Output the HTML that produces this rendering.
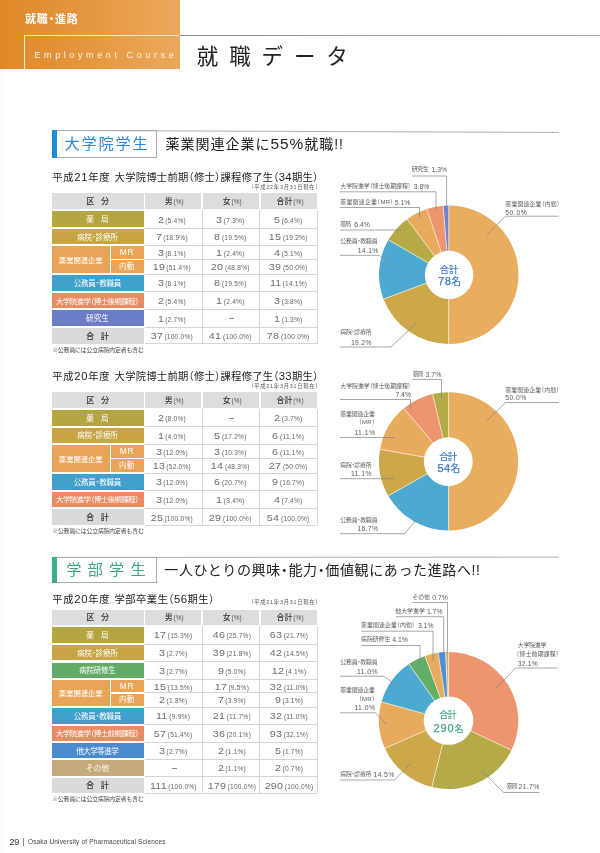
<!DOCTYPE html>
<html lang="ja"><head><meta charset="utf-8"><title>就職データ</title>
<style>
html,body{margin:0;padding:0}
body{width:600px;height:853px;position:relative;overflow:hidden;background:#fff;font-family:"Liberation Sans","Noto Sans CJK JP",sans-serif;}
#pg{position:absolute;left:0;top:0;width:600px;height:853px;overflow:hidden;background:linear-gradient(90deg,#faf9f5 0,#fefefc 4px,#ffffff 8px)}
svg{position:absolute;left:0;top:0}
</style></head><body><div id="pg">
<svg width="600" height="853" viewBox="0 0 600 853">
<line x1="52" y1="130.45" x2="558.6" y2="132.45" stroke="#a3a5a7" stroke-width="0.9"/>
<line x1="52" y1="557.45" x2="558.6" y2="557.1500000000001" stroke="#a3a5a7" stroke-width="0.9"/>
<path d="M448.80,274.70 L448.80,205.40 A69.8,69.3 0 1 1 448.58,344.00 Z" fill="#e9ad60"/>
<path d="M448.80,274.70 L448.58,344.00 A69.8,69.3 0 0 1 383.48,299.12 Z" fill="#cca84b"/>
<path d="M448.80,274.70 L383.48,299.12 A69.8,69.3 0 0 1 388.46,239.86 Z" fill="#4caad2"/>
<path d="M448.80,274.70 L388.46,239.86 A69.8,69.3 0 0 1 407.03,219.18 Z" fill="#b4aa47"/>
<path d="M448.80,274.70 L407.03,219.18 A69.8,69.3 0 0 1 426.79,208.93 Z" fill="#e8aa5c"/>
<path d="M448.80,274.70 L426.79,208.93 A69.8,69.3 0 0 1 443.10,205.63 Z" fill="#ec956e"/>
<path d="M448.80,274.70 L443.10,205.63 A69.8,69.3 0 0 1 448.80,205.40 Z" fill="#6d82d2"/>
<line x1="448.80" y1="274.70" x2="448.80" y2="205.40" stroke="#f6ecd2" stroke-width="0.8"/>
<line x1="448.80" y1="274.70" x2="448.58" y2="344.00" stroke="#f6ecd2" stroke-width="0.8"/>
<line x1="448.80" y1="274.70" x2="383.48" y2="299.12" stroke="#f6ecd2" stroke-width="0.8"/>
<line x1="448.80" y1="274.70" x2="388.46" y2="239.86" stroke="#f6ecd2" stroke-width="0.8"/>
<line x1="448.80" y1="274.70" x2="407.03" y2="219.18" stroke="#f6ecd2" stroke-width="0.8"/>
<line x1="448.80" y1="274.70" x2="426.79" y2="208.93" stroke="#f6ecd2" stroke-width="0.8"/>
<line x1="448.80" y1="274.70" x2="443.10" y2="205.63" stroke="#f6ecd2" stroke-width="0.8"/>
<ellipse cx="449.1" cy="275" rx="24.2" ry="24.2" fill="#ffffff"/>
<polyline points="412.00,176.00 446.60,176.00 446.60,209.00" fill="none" stroke="#7d8388" stroke-width="0.7"/>
<polyline points="340.00,191.80 436.00,191.80 436.00,211.00" fill="none" stroke="#7d8388" stroke-width="0.7"/>
<polyline points="340.00,207.50 419.50,207.50 419.50,217.50" fill="none" stroke="#7d8388" stroke-width="0.7"/>
<polyline points="340.00,230.00 401.00,230.00" fill="none" stroke="#7d8388" stroke-width="0.7"/>
<polyline points="340.00,255.30 379.40,255.30 391.70,267.60" fill="none" stroke="#7d8388" stroke-width="0.7"/>
<polyline points="340.00,347.00 391.00,347.00 415.70,323.70" fill="none" stroke="#7d8388" stroke-width="0.7"/>
<polyline points="558.70,216.20 505.50,216.20 487.00,234.50" fill="none" stroke="#7d8388" stroke-width="0.7"/>
<path d="M448.60,461.40 L448.60,392.20 A69.6,69.2 0 0 1 448.60,530.60 Z" fill="#e9ad60"/>
<path d="M448.60,461.40 L448.60,530.60 A69.6,69.2 0 0 1 388.25,495.87 Z" fill="#4caad2"/>
<path d="M448.60,461.40 L388.25,495.87 A69.6,69.2 0 0 1 380.07,449.29 Z" fill="#cca84b"/>
<path d="M448.60,461.40 L380.07,449.29 A69.6,69.2 0 0 1 403.90,408.36 Z" fill="#e8aa5c"/>
<path d="M448.60,461.40 L403.90,408.36 A69.6,69.2 0 0 1 432.56,394.06 Z" fill="#ec956e"/>
<path d="M448.60,461.40 L432.56,394.06 A69.6,69.2 0 0 1 448.60,392.20 Z" fill="#b4aa47"/>
<line x1="448.60" y1="461.40" x2="448.60" y2="392.20" stroke="#f6ecd2" stroke-width="0.8"/>
<line x1="448.60" y1="461.40" x2="448.60" y2="530.60" stroke="#f6ecd2" stroke-width="0.8"/>
<line x1="448.60" y1="461.40" x2="388.25" y2="495.87" stroke="#f6ecd2" stroke-width="0.8"/>
<line x1="448.60" y1="461.40" x2="380.07" y2="449.29" stroke="#f6ecd2" stroke-width="0.8"/>
<line x1="448.60" y1="461.40" x2="403.90" y2="408.36" stroke="#f6ecd2" stroke-width="0.8"/>
<line x1="448.60" y1="461.40" x2="432.56" y2="394.06" stroke="#f6ecd2" stroke-width="0.8"/>
<ellipse cx="448.3" cy="461.6" rx="24.4" ry="24.3" fill="#ffffff"/>
<polyline points="413.00,379.50 441.50,379.50 441.50,397.50" fill="none" stroke="#7d8388" stroke-width="0.7"/>
<polyline points="340.00,399.50 410.50,399.50 410.50,408.70" fill="none" stroke="#7d8388" stroke-width="0.7"/>
<polyline points="340.00,437.50 394.50,437.50" fill="none" stroke="#7d8388" stroke-width="0.7"/>
<polyline points="340.00,478.70 393.70,478.70" fill="none" stroke="#7d8388" stroke-width="0.7"/>
<polyline points="340.00,533.70 404.50,533.70 418.00,518.00" fill="none" stroke="#7d8388" stroke-width="0.7"/>
<polyline points="558.70,402.50 505.50,402.50 487.00,420.70" fill="none" stroke="#7d8388" stroke-width="0.7"/>
<path d="M448.60,720.50 L448.60,652.00 A69.7,68.5 0 0 1 511.42,750.18 Z" fill="#ec956e"/>
<path d="M448.60,720.50 L511.42,750.18 A69.7,68.5 0 0 1 431.89,787.00 Z" fill="#b4aa47"/>
<path d="M448.60,720.50 L431.89,787.00 A69.7,68.5 0 0 1 384.86,748.22 Z" fill="#cca84b"/>
<path d="M448.60,720.50 L384.86,748.22 A69.7,68.5 0 0 1 381.52,701.89 Z" fill="#e8aa5c"/>
<path d="M448.60,720.50 L381.52,701.89 A69.7,68.5 0 0 1 409.03,664.11 Z" fill="#4caad2"/>
<path d="M448.60,720.50 L409.03,664.11 A69.7,68.5 0 0 1 424.97,656.06 Z" fill="#62ae68"/>
<path d="M448.60,720.50 L424.97,656.06 A69.7,68.5 0 0 1 438.12,652.78 Z" fill="#e8aa5c"/>
<path d="M448.60,720.50 L438.12,652.78 A69.7,68.5 0 0 1 445.53,652.07 Z" fill="#4b8fd8"/>
<path d="M448.60,720.50 L445.53,652.07 A69.7,68.5 0 0 1 448.60,652.00 Z" fill="#c9ae80"/>
<line x1="448.60" y1="720.50" x2="448.60" y2="652.00" stroke="#f6ecd2" stroke-width="0.8"/>
<line x1="448.60" y1="720.50" x2="511.42" y2="750.18" stroke="#f6ecd2" stroke-width="0.8"/>
<line x1="448.60" y1="720.50" x2="431.89" y2="787.00" stroke="#f6ecd2" stroke-width="0.8"/>
<line x1="448.60" y1="720.50" x2="384.86" y2="748.22" stroke="#f6ecd2" stroke-width="0.8"/>
<line x1="448.60" y1="720.50" x2="381.52" y2="701.89" stroke="#f6ecd2" stroke-width="0.8"/>
<line x1="448.60" y1="720.50" x2="409.03" y2="664.11" stroke="#f6ecd2" stroke-width="0.8"/>
<line x1="448.60" y1="720.50" x2="424.97" y2="656.06" stroke="#f6ecd2" stroke-width="0.8"/>
<line x1="448.60" y1="720.50" x2="438.12" y2="652.78" stroke="#f6ecd2" stroke-width="0.8"/>
<line x1="448.60" y1="720.50" x2="445.53" y2="652.07" stroke="#f6ecd2" stroke-width="0.8"/>
<ellipse cx="448.5" cy="720.6" rx="24.8" ry="24.2" fill="#ffffff"/>
<polyline points="412.50,602.50 447.50,602.50 447.50,653.00" fill="none" stroke="#7d8388" stroke-width="0.7"/>
<polyline points="395.50,616.70 443.70,616.70 443.70,655.00" fill="none" stroke="#7d8388" stroke-width="0.7"/>
<polyline points="361.20,631.20 433.00,631.20 433.00,660.50" fill="none" stroke="#7d8388" stroke-width="0.7"/>
<polyline points="361.20,645.50 420.00,645.50 420.00,663.70" fill="none" stroke="#7d8388" stroke-width="0.7"/>
<polyline points="340.00,676.20 383.70,676.20 398.70,687.00" fill="none" stroke="#7d8388" stroke-width="0.7"/>
<polyline points="340.00,712.80 375.30,712.80 386.50,724.20" fill="none" stroke="#7d8388" stroke-width="0.7"/>
<polyline points="340.00,780.00 394.50,780.00 410.50,763.70" fill="none" stroke="#7d8388" stroke-width="0.7"/>
<polyline points="557.50,668.00 515.50,668.00 496.20,688.00" fill="none" stroke="#7d8388" stroke-width="0.7"/>
<polyline points="539.50,792.50 503.70,792.50 481.20,770.50" fill="none" stroke="#7d8388" stroke-width="0.7"/>
</svg>
<div style="position:absolute;left:0;top:0;width:179.5px;height:69px;background:linear-gradient(90deg,#df8829 0%,#e4943b 40%,#eba95c 100%)"></div>
<div style="position:absolute;left:23.60px;top:34.60px;width:155.90px;height:1.00px;background:#fbe9d2;"></div>
<div style="position:absolute;left:23.60px;top:34.60px;width:1.00px;height:34.40px;background:#fbe9d2;"></div>
<div style="position:absolute;left:179.5px;top:34.65px;width:420.5px;height:0.9px;background:linear-gradient(90deg,#85888e 0,#9a9c9f 40%,#a9abad 100%)"></div>
<div style="position:absolute;top:12.10px;line-height:15.4px;font-size:11px;color:#fff;white-space:nowrap;font-weight:700;letter-spacing:0.82px;font-feature-settings:'halt';left:25.00px;">就職・進路</div>
<div style="position:absolute;top:48.63px;line-height:12.74px;font-size:9.1px;color:#fff5e6;white-space:nowrap;letter-spacing:3.56px;left:34.40px;">Employment Course</div>
<div style="position:absolute;top:41.75px;line-height:30.1px;font-size:21.5px;color:#222;white-space:nowrap;letter-spacing:10.87px;left:196.80px;">就職データ</div>
<div style="position:absolute;left:52px;top:130px;width:104.30px;height:26.00px;border:1px solid #a9abad;border-left:none;box-sizing:content-box"></div>
<div style="position:absolute;left:52.00px;top:130.00px;width:5.00px;height:27.60px;background:#1f8dd8;"></div>
<div style="position:absolute;top:133.16px;line-height:21.28px;font-size:15.2px;color:#2b86d2;white-space:nowrap;letter-spacing:1.77px;left:64.60px;">大学院学生</div>
<div style="position:absolute;top:134.10px;line-height:20px;font-size:14px;color:#222;white-space:nowrap;letter-spacing:0.98px;font-feature-settings:'halt';left:165.60px;">薬業関連企業に<span style="font-size:110%">55%</span>就職!!</div>
<div style="position:absolute;left:52px;top:557px;width:104.30px;height:24.30px;border:1px solid #a9abad;border-left:none;box-sizing:content-box"></div>
<div style="position:absolute;left:52.00px;top:557.00px;width:5.00px;height:25.90px;background:#3fae82;"></div>
<div style="position:absolute;top:559.31px;line-height:21.28px;font-size:15.2px;color:#3aa87c;white-space:nowrap;letter-spacing:6.18px;left:66.30px;">学部学生</div>
<div style="position:absolute;top:560.25px;line-height:20px;font-size:14px;color:#222;white-space:nowrap;letter-spacing:0.62px;font-feature-settings:'halt';left:164.30px;">一人ひとりの興味・能力・価値観にあった進路へ!!</div>
<div style="position:absolute;top:170.39px;line-height:14.42px;font-size:10.3px;color:#222;white-space:nowrap;letter-spacing:0.68px;left:52.30px;">平成<span style="font-size:110%">21</span>年度</div>
<div style="position:absolute;top:170.39px;line-height:14.42px;font-size:10.3px;color:#222;white-space:nowrap;letter-spacing:0.27px;font-feature-settings:'halt';left:114.60px;">大学院博士前期（修士）課程修了生（<span style="font-size:110%">34</span>期生）</div>
<div style="position:absolute;top:183.79px;line-height:7.42px;font-size:5.3px;color:#555;white-space:nowrap;letter-spacing:0.78px;font-feature-settings:'halt';left:250.80px;">（平成22年3月31日現在）</div>
<div style="position:absolute;left:52.00px;top:193.00px;width:91.60px;height:16.20px;background:#dcdedd;"></div>
<div style="position:absolute;top:196.06px;line-height:11.48px;font-size:8.2px;color:#333;white-space:nowrap;font-weight:500;letter-spacing:-0.8px;font-feature-settings:'halt';left:52.80px;width:90px;text-align:center;text-indent:-0.8px;">区　分</div>
<div style="position:absolute;left:145.40px;top:193.00px;width:56.00px;height:16.20px;background:#dcdedd;"></div>
<div style="position:absolute;top:195.80px;line-height:12px;font-size:7.9px;color:#555;white-space:nowrap;left:146.30px;width:56px;text-align:center;"><span style="font-size:7.9px;font-weight:500;color:#333">男</span><span style="font-size:6.4px;margin-left:0.8px;letter-spacing:0.2px">(%)</span></div>
<div style="position:absolute;left:203.40px;top:193.00px;width:56.00px;height:16.20px;background:#dcdedd;"></div>
<div style="position:absolute;top:195.80px;line-height:12px;font-size:7.9px;color:#555;white-space:nowrap;left:204.30px;width:56px;text-align:center;"><span style="font-size:7.9px;font-weight:500;color:#333">女</span><span style="font-size:6.4px;margin-left:0.8px;letter-spacing:0.2px">(%)</span></div>
<div style="position:absolute;left:261.40px;top:193.00px;width:55.80px;height:16.20px;background:#dcdedd;"></div>
<div style="position:absolute;top:195.80px;line-height:12px;font-size:7.9px;color:#555;white-space:nowrap;left:262.20px;width:56px;text-align:center;"><span style="font-size:7.9px;font-weight:500;color:#333">合計</span><span style="font-size:6.4px;margin-left:0.8px;letter-spacing:0.2px">(%)</span></div>
<div style="position:absolute;left:52.00px;top:211.00px;width:91.60px;height:16.00px;background:#b3a541;"></div>
<div style="position:absolute;top:214.98px;line-height:10.64px;font-size:7.6px;color:#fff;white-space:nowrap;letter-spacing:-0.22px;font-feature-settings:'halt';left:47.50px;width:100px;text-align:center;text-indent:-0.22px;">薬　局</div>
<div style="position:absolute;top:213.50px;line-height:12px;font-size:8.8px;color:#646464;white-space:nowrap;left:131.70px;width:80px;text-align:center;"><span style="display:inline-block;color:#6c6c6c;font-size:8.8px;letter-spacing:0.2px;transform:scaleX(1.22);transform-origin:100% 50%;margin-left:1.12px">2</span><span style="font-size:6.6px;margin-left:1.5px;letter-spacing:0.22px">(5.4%)</span></div>
<div style="position:absolute;top:213.50px;line-height:12px;font-size:8.8px;color:#646464;white-space:nowrap;left:190.40px;width:80px;text-align:center;"><span style="display:inline-block;color:#6c6c6c;font-size:8.8px;letter-spacing:0.2px;transform:scaleX(1.22);transform-origin:100% 50%;margin-left:1.12px">3</span><span style="font-size:6.6px;margin-left:1.5px;letter-spacing:0.22px">(7.3%)</span></div>
<div style="position:absolute;top:213.50px;line-height:12px;font-size:8.8px;color:#646464;white-space:nowrap;left:248.30px;width:80px;text-align:center;"><span style="display:inline-block;color:#6c6c6c;font-size:8.8px;letter-spacing:0.2px;transform:scaleX(1.22);transform-origin:100% 50%;margin-left:1.12px">5</span><span style="font-size:6.6px;margin-left:1.5px;letter-spacing:0.22px">(6.4%)</span></div>
<div style="position:absolute;left:145.40px;top:227.70px;width:172.00px;height:0.80px;background:#d3d5d6;"></div>
<div style="position:absolute;left:52.00px;top:229.00px;width:91.60px;height:15.40px;background:#c8a444;"></div>
<div style="position:absolute;top:232.75px;line-height:10.5px;font-size:7.5px;color:#fff;white-space:nowrap;letter-spacing:-0.15px;font-feature-settings:'halt';left:47.50px;width:100px;text-align:center;text-indent:-0.15px;">病院・診療所</div>
<div style="position:absolute;top:231.20px;line-height:12px;font-size:8.8px;color:#646464;white-space:nowrap;left:131.70px;width:80px;text-align:center;"><span style="display:inline-block;color:#6c6c6c;font-size:8.8px;letter-spacing:0.2px;transform:scaleX(1.22);transform-origin:100% 50%;margin-left:1.12px">7</span><span style="font-size:6.6px;margin-left:1.5px;letter-spacing:0.22px">(18.9%)</span></div>
<div style="position:absolute;top:231.20px;line-height:12px;font-size:8.8px;color:#646464;white-space:nowrap;left:190.40px;width:80px;text-align:center;"><span style="display:inline-block;color:#6c6c6c;font-size:8.8px;letter-spacing:0.2px;transform:scaleX(1.22);transform-origin:100% 50%;margin-left:1.12px">8</span><span style="font-size:6.6px;margin-left:1.5px;letter-spacing:0.22px">(19.5%)</span></div>
<div style="position:absolute;top:231.20px;line-height:12px;font-size:8.8px;color:#646464;white-space:nowrap;left:248.30px;width:80px;text-align:center;"><span style="display:inline-block;color:#6c6c6c;font-size:8.8px;letter-spacing:0.2px;transform:scaleX(1.22);transform-origin:100% 50%;margin-left:2.24px">15</span><span style="font-size:6.6px;margin-left:1.5px;letter-spacing:0.22px">(19.2%)</span></div>
<div style="position:absolute;left:145.40px;top:245.10px;width:172.00px;height:0.80px;background:#d3d5d6;"></div>
<div style="position:absolute;left:52.00px;top:246.20px;width:57.60px;height:26.80px;background:#e9a557;"></div>
<div style="position:absolute;top:255.62px;line-height:10.36px;font-size:7.4px;color:#fff;white-space:nowrap;letter-spacing:-0.09px;font-feature-settings:'halt';left:50.80px;width:60px;text-align:center;text-indent:-0.09px;">薬業関連企業</div>
<div style="position:absolute;left:110.60px;top:246.20px;width:33.00px;height:12.80px;background:#e9a557;"></div>
<div style="position:absolute;left:110.60px;top:260.30px;width:33.00px;height:12.70px;background:#e9a557;"></div>
<div style="position:absolute;top:247.22px;line-height:11.76px;font-size:8.4px;color:#fff;white-space:nowrap;letter-spacing:0.76px;font-feature-settings:'halt';left:109.60px;width:34px;text-align:center;text-indent:0.76px;">MR</div>
<div style="position:absolute;top:262.10px;line-height:10.5px;font-size:7.5px;color:#fff;white-space:nowrap;letter-spacing:0.33px;font-feature-settings:'halt';left:109.60px;width:34px;text-align:center;text-indent:0.33px;">内勤</div>
<div style="position:absolute;top:247.10px;line-height:12px;font-size:8.8px;color:#646464;white-space:nowrap;left:131.70px;width:80px;text-align:center;"><span style="display:inline-block;color:#6c6c6c;font-size:8.8px;letter-spacing:0.2px;transform:scaleX(1.22);transform-origin:100% 50%;margin-left:1.12px">3</span><span style="font-size:6.6px;margin-left:1.5px;letter-spacing:0.22px">(8.1%)</span></div>
<div style="position:absolute;top:247.10px;line-height:12px;font-size:8.8px;color:#646464;white-space:nowrap;left:190.40px;width:80px;text-align:center;"><span style="display:inline-block;color:#6c6c6c;font-size:8.8px;letter-spacing:0.2px;transform:scaleX(1.22);transform-origin:100% 50%;margin-left:1.12px">1</span><span style="font-size:6.6px;margin-left:1.5px;letter-spacing:0.22px">(2.4%)</span></div>
<div style="position:absolute;top:247.10px;line-height:12px;font-size:8.8px;color:#646464;white-space:nowrap;left:248.30px;width:80px;text-align:center;"><span style="display:inline-block;color:#6c6c6c;font-size:8.8px;letter-spacing:0.2px;transform:scaleX(1.22);transform-origin:100% 50%;margin-left:1.12px">4</span><span style="font-size:6.6px;margin-left:1.5px;letter-spacing:0.22px">(5.1%)</span></div>
<div style="position:absolute;top:261.15px;line-height:12px;font-size:8.8px;color:#646464;white-space:nowrap;left:131.70px;width:80px;text-align:center;"><span style="display:inline-block;color:#6c6c6c;font-size:8.8px;letter-spacing:0.2px;transform:scaleX(1.22);transform-origin:100% 50%;margin-left:2.24px">19</span><span style="font-size:6.6px;margin-left:1.5px;letter-spacing:0.22px">(51.4%)</span></div>
<div style="position:absolute;top:261.15px;line-height:12px;font-size:8.8px;color:#646464;white-space:nowrap;left:190.40px;width:80px;text-align:center;"><span style="display:inline-block;color:#6c6c6c;font-size:8.8px;letter-spacing:0.2px;transform:scaleX(1.22);transform-origin:100% 50%;margin-left:2.24px">20</span><span style="font-size:6.6px;margin-left:1.5px;letter-spacing:0.22px">(48.8%)</span></div>
<div style="position:absolute;top:261.15px;line-height:12px;font-size:8.8px;color:#646464;white-space:nowrap;left:248.30px;width:80px;text-align:center;"><span style="display:inline-block;color:#6c6c6c;font-size:8.8px;letter-spacing:0.2px;transform:scaleX(1.22);transform-origin:100% 50%;margin-left:2.24px">39</span><span style="font-size:6.6px;margin-left:1.5px;letter-spacing:0.22px">(50.0%)</span></div>
<div style="position:absolute;left:145.40px;top:259.25px;width:172.00px;height:0.80px;background:#d3d5d6;"></div>
<div style="position:absolute;left:145.40px;top:273.70px;width:172.00px;height:0.80px;background:#d3d5d6;"></div>
<div style="position:absolute;left:52.00px;top:275.00px;width:91.60px;height:15.60px;background:#41a1cc;"></div>
<div style="position:absolute;top:278.85px;line-height:10.5px;font-size:7.5px;color:#fff;white-space:nowrap;letter-spacing:-0.2px;font-feature-settings:'halt';left:47.50px;width:100px;text-align:center;text-indent:-0.2px;">公務員・教職員</div>
<div style="position:absolute;top:277.30px;line-height:12px;font-size:8.8px;color:#646464;white-space:nowrap;left:131.70px;width:80px;text-align:center;"><span style="display:inline-block;color:#6c6c6c;font-size:8.8px;letter-spacing:0.2px;transform:scaleX(1.22);transform-origin:100% 50%;margin-left:1.12px">3</span><span style="font-size:6.6px;margin-left:1.5px;letter-spacing:0.22px">(8.1%)</span></div>
<div style="position:absolute;top:277.30px;line-height:12px;font-size:8.8px;color:#646464;white-space:nowrap;left:190.40px;width:80px;text-align:center;"><span style="display:inline-block;color:#6c6c6c;font-size:8.8px;letter-spacing:0.2px;transform:scaleX(1.22);transform-origin:100% 50%;margin-left:1.12px">8</span><span style="font-size:6.6px;margin-left:1.5px;letter-spacing:0.22px">(19.5%)</span></div>
<div style="position:absolute;top:277.30px;line-height:12px;font-size:8.8px;color:#646464;white-space:nowrap;left:248.30px;width:80px;text-align:center;"><span style="display:inline-block;color:#6c6c6c;font-size:8.8px;letter-spacing:0.2px;transform:scaleX(1.22);transform-origin:100% 50%;margin-left:2.24px">11</span><span style="font-size:6.6px;margin-left:1.5px;letter-spacing:0.22px">(14.1%)</span></div>
<div style="position:absolute;left:145.40px;top:291.30px;width:172.00px;height:0.80px;background:#d3d5d6;"></div>
<div style="position:absolute;left:52.00px;top:292.60px;width:91.60px;height:15.60px;background:#e98c64;"></div>
<div style="position:absolute;top:296.52px;line-height:10.36px;font-size:7.4px;color:#fff;white-space:nowrap;letter-spacing:-0.48px;font-feature-settings:'halt';left:47.50px;width:100px;text-align:center;text-indent:-0.48px;">大学院進学（博士後期課程）</div>
<div style="position:absolute;top:294.90px;line-height:12px;font-size:8.8px;color:#646464;white-space:nowrap;left:131.70px;width:80px;text-align:center;"><span style="display:inline-block;color:#6c6c6c;font-size:8.8px;letter-spacing:0.2px;transform:scaleX(1.22);transform-origin:100% 50%;margin-left:1.12px">2</span><span style="font-size:6.6px;margin-left:1.5px;letter-spacing:0.22px">(5.4%)</span></div>
<div style="position:absolute;top:294.90px;line-height:12px;font-size:8.8px;color:#646464;white-space:nowrap;left:190.40px;width:80px;text-align:center;"><span style="display:inline-block;color:#6c6c6c;font-size:8.8px;letter-spacing:0.2px;transform:scaleX(1.22);transform-origin:100% 50%;margin-left:1.12px">1</span><span style="font-size:6.6px;margin-left:1.5px;letter-spacing:0.22px">(2.4%)</span></div>
<div style="position:absolute;top:294.90px;line-height:12px;font-size:8.8px;color:#646464;white-space:nowrap;left:248.30px;width:80px;text-align:center;"><span style="display:inline-block;color:#6c6c6c;font-size:8.8px;letter-spacing:0.2px;transform:scaleX(1.22);transform-origin:100% 50%;margin-left:1.12px">3</span><span style="font-size:6.6px;margin-left:1.5px;letter-spacing:0.22px">(3.8%)</span></div>
<div style="position:absolute;left:145.40px;top:308.90px;width:172.00px;height:0.80px;background:#d3d5d6;"></div>
<div style="position:absolute;left:52.00px;top:310.20px;width:91.60px;height:15.60px;background:#6c7dc7;"></div>
<div style="position:absolute;top:314.05px;line-height:10.5px;font-size:7.5px;color:#fff;white-space:nowrap;letter-spacing:0.21px;font-feature-settings:'halt';left:47.50px;width:100px;text-align:center;text-indent:0.21px;">研究生</div>
<div style="position:absolute;top:312.50px;line-height:12px;font-size:8.8px;color:#646464;white-space:nowrap;left:131.70px;width:80px;text-align:center;"><span style="display:inline-block;color:#6c6c6c;font-size:8.8px;letter-spacing:0.2px;transform:scaleX(1.22);transform-origin:100% 50%;margin-left:1.12px">1</span><span style="font-size:6.6px;margin-left:1.5px;letter-spacing:0.22px">(2.7%)</span></div>
<div style="position:absolute;left:228.70px;top:318.40px;width:5.40px;height:0.70px;background:#8a8a8a;"></div>
<div style="position:absolute;top:312.50px;line-height:12px;font-size:8.8px;color:#646464;white-space:nowrap;left:248.30px;width:80px;text-align:center;"><span style="display:inline-block;color:#6c6c6c;font-size:8.8px;letter-spacing:0.2px;transform:scaleX(1.22);transform-origin:100% 50%;margin-left:1.12px">1</span><span style="font-size:6.6px;margin-left:1.5px;letter-spacing:0.22px">(1.3%)</span></div>
<div style="position:absolute;left:145.40px;top:326.50px;width:172.00px;height:0.80px;background:#d3d5d6;"></div>
<div style="position:absolute;left:52.00px;top:327.80px;width:91.60px;height:16.00px;background:#d8dadb;"></div>
<div style="position:absolute;top:330.76px;line-height:11.48px;font-size:8.2px;color:#333;white-space:nowrap;font-weight:500;letter-spacing:-0.8px;font-feature-settings:'halt';left:47.50px;width:100px;text-align:center;text-indent:-0.8px;">合　計</div>
<div style="position:absolute;top:330.30px;line-height:12px;font-size:8.8px;color:#646464;white-space:nowrap;left:131.70px;width:80px;text-align:center;"><span style="display:inline-block;color:#6c6c6c;font-size:8.8px;letter-spacing:0.2px;transform:scaleX(1.22);transform-origin:100% 50%;margin-left:2.24px">37</span><span style="font-size:6.6px;margin-left:1.5px;letter-spacing:0.22px">(100.0%)</span></div>
<div style="position:absolute;top:330.30px;line-height:12px;font-size:8.8px;color:#646464;white-space:nowrap;left:190.40px;width:80px;text-align:center;"><span style="display:inline-block;color:#6c6c6c;font-size:8.8px;letter-spacing:0.2px;transform:scaleX(1.22);transform-origin:100% 50%;margin-left:2.24px">41</span><span style="font-size:6.6px;margin-left:1.5px;letter-spacing:0.22px">(100.0%)</span></div>
<div style="position:absolute;top:330.30px;line-height:12px;font-size:8.8px;color:#646464;white-space:nowrap;left:248.30px;width:80px;text-align:center;"><span style="display:inline-block;color:#6c6c6c;font-size:8.8px;letter-spacing:0.2px;transform:scaleX(1.22);transform-origin:100% 50%;margin-left:2.24px">78</span><span style="font-size:6.6px;margin-left:1.5px;letter-spacing:0.22px">(100.0%)</span></div>
<div style="position:absolute;left:145.40px;top:343.40px;width:172.00px;height:0.80px;background:#d3d5d6;"></div>
<div style="position:absolute;left:201.90px;top:209.70px;width:0.80px;height:134.50px;background:#d3d5d6;"></div>
<div style="position:absolute;left:259.40px;top:209.70px;width:0.80px;height:134.50px;background:#d3d5d6;"></div>
<div style="position:absolute;left:316.60px;top:210.70px;width:0.80px;height:133.50px;background:#d3d5d6;"></div>
<div style="position:absolute;top:346.14px;line-height:8.12px;font-size:5.8px;color:#444;white-space:nowrap;letter-spacing:-0.09px;left:52.30px;">※公務員には公立病院内定者も含む</div>
<div style="position:absolute;top:368.89px;line-height:14.42px;font-size:10.3px;color:#222;white-space:nowrap;letter-spacing:0.68px;left:52.30px;">平成<span style="font-size:110%">20</span>年度</div>
<div style="position:absolute;top:368.89px;line-height:14.42px;font-size:10.3px;color:#222;white-space:nowrap;letter-spacing:0.27px;font-feature-settings:'halt';left:114.60px;">大学院博士前期（修士）課程修了生（<span style="font-size:110%">33</span>期生）</div>
<div style="position:absolute;top:383.19px;line-height:7.42px;font-size:5.3px;color:#555;white-space:nowrap;letter-spacing:0.78px;font-feature-settings:'halt';left:250.80px;">（平成21年3月31日現在）</div>
<div style="position:absolute;left:52.00px;top:392.00px;width:91.60px;height:16.20px;background:#dcdedd;"></div>
<div style="position:absolute;top:395.06px;line-height:11.48px;font-size:8.2px;color:#333;white-space:nowrap;font-weight:500;letter-spacing:-0.8px;font-feature-settings:'halt';left:52.80px;width:90px;text-align:center;text-indent:-0.8px;">区　分</div>
<div style="position:absolute;left:145.40px;top:392.00px;width:56.00px;height:16.20px;background:#dcdedd;"></div>
<div style="position:absolute;top:394.80px;line-height:12px;font-size:7.9px;color:#555;white-space:nowrap;left:146.30px;width:56px;text-align:center;"><span style="font-size:7.9px;font-weight:500;color:#333">男</span><span style="font-size:6.4px;margin-left:0.8px;letter-spacing:0.2px">(%)</span></div>
<div style="position:absolute;left:203.40px;top:392.00px;width:56.00px;height:16.20px;background:#dcdedd;"></div>
<div style="position:absolute;top:394.80px;line-height:12px;font-size:7.9px;color:#555;white-space:nowrap;left:204.30px;width:56px;text-align:center;"><span style="font-size:7.9px;font-weight:500;color:#333">女</span><span style="font-size:6.4px;margin-left:0.8px;letter-spacing:0.2px">(%)</span></div>
<div style="position:absolute;left:261.40px;top:392.00px;width:55.80px;height:16.20px;background:#dcdedd;"></div>
<div style="position:absolute;top:394.80px;line-height:12px;font-size:7.9px;color:#555;white-space:nowrap;left:262.20px;width:56px;text-align:center;"><span style="font-size:7.9px;font-weight:500;color:#333">合計</span><span style="font-size:6.4px;margin-left:0.8px;letter-spacing:0.2px">(%)</span></div>
<div style="position:absolute;left:52.00px;top:410.00px;width:91.60px;height:15.60px;background:#b3a541;"></div>
<div style="position:absolute;top:413.78px;line-height:10.64px;font-size:7.6px;color:#fff;white-space:nowrap;letter-spacing:-0.22px;font-feature-settings:'halt';left:47.50px;width:100px;text-align:center;text-indent:-0.22px;">薬　局</div>
<div style="position:absolute;top:412.30px;line-height:12px;font-size:8.8px;color:#646464;white-space:nowrap;left:131.70px;width:80px;text-align:center;"><span style="display:inline-block;color:#6c6c6c;font-size:8.8px;letter-spacing:0.2px;transform:scaleX(1.22);transform-origin:100% 50%;margin-left:1.12px">2</span><span style="font-size:6.6px;margin-left:1.5px;letter-spacing:0.22px">(8.0%)</span></div>
<div style="position:absolute;left:228.70px;top:418.20px;width:5.40px;height:0.70px;background:#8a8a8a;"></div>
<div style="position:absolute;top:412.30px;line-height:12px;font-size:8.8px;color:#646464;white-space:nowrap;left:248.30px;width:80px;text-align:center;"><span style="display:inline-block;color:#6c6c6c;font-size:8.8px;letter-spacing:0.2px;transform:scaleX(1.22);transform-origin:100% 50%;margin-left:1.12px">2</span><span style="font-size:6.6px;margin-left:1.5px;letter-spacing:0.22px">(3.7%)</span></div>
<div style="position:absolute;left:145.40px;top:426.30px;width:172.00px;height:0.80px;background:#d3d5d6;"></div>
<div style="position:absolute;left:52.00px;top:427.60px;width:91.60px;height:15.60px;background:#c8a444;"></div>
<div style="position:absolute;top:431.45px;line-height:10.5px;font-size:7.5px;color:#fff;white-space:nowrap;letter-spacing:-0.15px;font-feature-settings:'halt';left:47.50px;width:100px;text-align:center;text-indent:-0.15px;">病院・診療所</div>
<div style="position:absolute;top:429.90px;line-height:12px;font-size:8.8px;color:#646464;white-space:nowrap;left:131.70px;width:80px;text-align:center;"><span style="display:inline-block;color:#6c6c6c;font-size:8.8px;letter-spacing:0.2px;transform:scaleX(1.22);transform-origin:100% 50%;margin-left:1.12px">1</span><span style="font-size:6.6px;margin-left:1.5px;letter-spacing:0.22px">(4.0%)</span></div>
<div style="position:absolute;top:429.90px;line-height:12px;font-size:8.8px;color:#646464;white-space:nowrap;left:190.40px;width:80px;text-align:center;"><span style="display:inline-block;color:#6c6c6c;font-size:8.8px;letter-spacing:0.2px;transform:scaleX(1.22);transform-origin:100% 50%;margin-left:1.12px">5</span><span style="font-size:6.6px;margin-left:1.5px;letter-spacing:0.22px">(17.2%)</span></div>
<div style="position:absolute;top:429.90px;line-height:12px;font-size:8.8px;color:#646464;white-space:nowrap;left:248.30px;width:80px;text-align:center;"><span style="display:inline-block;color:#6c6c6c;font-size:8.8px;letter-spacing:0.2px;transform:scaleX(1.22);transform-origin:100% 50%;margin-left:1.12px">6</span><span style="font-size:6.6px;margin-left:1.5px;letter-spacing:0.22px">(11.1%)</span></div>
<div style="position:absolute;left:145.40px;top:443.90px;width:172.00px;height:0.80px;background:#d3d5d6;"></div>
<div style="position:absolute;left:52.00px;top:445.00px;width:57.60px;height:27.00px;background:#e9a557;"></div>
<div style="position:absolute;top:454.52px;line-height:10.36px;font-size:7.4px;color:#fff;white-space:nowrap;letter-spacing:-0.09px;font-feature-settings:'halt';left:50.80px;width:60px;text-align:center;text-indent:-0.09px;">薬業関連企業</div>
<div style="position:absolute;left:110.60px;top:445.00px;width:33.00px;height:12.80px;background:#e9a557;"></div>
<div style="position:absolute;left:110.60px;top:459.10px;width:33.00px;height:12.90px;background:#e9a557;"></div>
<div style="position:absolute;top:446.02px;line-height:11.76px;font-size:8.4px;color:#fff;white-space:nowrap;letter-spacing:0.76px;font-feature-settings:'halt';left:109.60px;width:34px;text-align:center;text-indent:0.76px;">MR</div>
<div style="position:absolute;top:461.00px;line-height:10.5px;font-size:7.5px;color:#fff;white-space:nowrap;letter-spacing:0.33px;font-feature-settings:'halt';left:109.60px;width:34px;text-align:center;text-indent:0.33px;">内勤</div>
<div style="position:absolute;top:445.90px;line-height:12px;font-size:8.8px;color:#646464;white-space:nowrap;left:131.70px;width:80px;text-align:center;"><span style="display:inline-block;color:#6c6c6c;font-size:8.8px;letter-spacing:0.2px;transform:scaleX(1.22);transform-origin:100% 50%;margin-left:1.12px">3</span><span style="font-size:6.6px;margin-left:1.5px;letter-spacing:0.22px">(12.0%)</span></div>
<div style="position:absolute;top:445.90px;line-height:12px;font-size:8.8px;color:#646464;white-space:nowrap;left:190.40px;width:80px;text-align:center;"><span style="display:inline-block;color:#6c6c6c;font-size:8.8px;letter-spacing:0.2px;transform:scaleX(1.22);transform-origin:100% 50%;margin-left:1.12px">3</span><span style="font-size:6.6px;margin-left:1.5px;letter-spacing:0.22px">(10.3%)</span></div>
<div style="position:absolute;top:445.90px;line-height:12px;font-size:8.8px;color:#646464;white-space:nowrap;left:248.30px;width:80px;text-align:center;"><span style="display:inline-block;color:#6c6c6c;font-size:8.8px;letter-spacing:0.2px;transform:scaleX(1.22);transform-origin:100% 50%;margin-left:1.12px">6</span><span style="font-size:6.6px;margin-left:1.5px;letter-spacing:0.22px">(11.1%)</span></div>
<div style="position:absolute;top:460.05px;line-height:12px;font-size:8.8px;color:#646464;white-space:nowrap;left:131.70px;width:80px;text-align:center;"><span style="display:inline-block;color:#6c6c6c;font-size:8.8px;letter-spacing:0.2px;transform:scaleX(1.22);transform-origin:100% 50%;margin-left:2.24px">13</span><span style="font-size:6.6px;margin-left:1.5px;letter-spacing:0.22px">(52.0%)</span></div>
<div style="position:absolute;top:460.05px;line-height:12px;font-size:8.8px;color:#646464;white-space:nowrap;left:190.40px;width:80px;text-align:center;"><span style="display:inline-block;color:#6c6c6c;font-size:8.8px;letter-spacing:0.2px;transform:scaleX(1.22);transform-origin:100% 50%;margin-left:2.24px">14</span><span style="font-size:6.6px;margin-left:1.5px;letter-spacing:0.22px">(48.3%)</span></div>
<div style="position:absolute;top:460.05px;line-height:12px;font-size:8.8px;color:#646464;white-space:nowrap;left:248.30px;width:80px;text-align:center;"><span style="display:inline-block;color:#6c6c6c;font-size:8.8px;letter-spacing:0.2px;transform:scaleX(1.22);transform-origin:100% 50%;margin-left:2.24px">27</span><span style="font-size:6.6px;margin-left:1.5px;letter-spacing:0.22px">(50.0%)</span></div>
<div style="position:absolute;left:145.40px;top:458.05px;width:172.00px;height:0.80px;background:#d3d5d6;"></div>
<div style="position:absolute;left:145.40px;top:472.70px;width:172.00px;height:0.80px;background:#d3d5d6;"></div>
<div style="position:absolute;left:52.00px;top:474.00px;width:91.60px;height:15.50px;background:#41a1cc;"></div>
<div style="position:absolute;top:477.80px;line-height:10.5px;font-size:7.5px;color:#fff;white-space:nowrap;letter-spacing:-0.2px;font-feature-settings:'halt';left:47.50px;width:100px;text-align:center;text-indent:-0.2px;">公務員・教職員</div>
<div style="position:absolute;top:476.25px;line-height:12px;font-size:8.8px;color:#646464;white-space:nowrap;left:131.70px;width:80px;text-align:center;"><span style="display:inline-block;color:#6c6c6c;font-size:8.8px;letter-spacing:0.2px;transform:scaleX(1.22);transform-origin:100% 50%;margin-left:1.12px">3</span><span style="font-size:6.6px;margin-left:1.5px;letter-spacing:0.22px">(12.0%)</span></div>
<div style="position:absolute;top:476.25px;line-height:12px;font-size:8.8px;color:#646464;white-space:nowrap;left:190.40px;width:80px;text-align:center;"><span style="display:inline-block;color:#6c6c6c;font-size:8.8px;letter-spacing:0.2px;transform:scaleX(1.22);transform-origin:100% 50%;margin-left:1.12px">6</span><span style="font-size:6.6px;margin-left:1.5px;letter-spacing:0.22px">(20.7%)</span></div>
<div style="position:absolute;top:476.25px;line-height:12px;font-size:8.8px;color:#646464;white-space:nowrap;left:248.30px;width:80px;text-align:center;"><span style="display:inline-block;color:#6c6c6c;font-size:8.8px;letter-spacing:0.2px;transform:scaleX(1.22);transform-origin:100% 50%;margin-left:1.12px">9</span><span style="font-size:6.6px;margin-left:1.5px;letter-spacing:0.22px">(16.7%)</span></div>
<div style="position:absolute;left:145.40px;top:490.20px;width:172.00px;height:0.80px;background:#d3d5d6;"></div>
<div style="position:absolute;left:52.00px;top:491.50px;width:91.60px;height:15.50px;background:#e98c64;"></div>
<div style="position:absolute;top:495.37px;line-height:10.36px;font-size:7.4px;color:#fff;white-space:nowrap;letter-spacing:-0.48px;font-feature-settings:'halt';left:47.50px;width:100px;text-align:center;text-indent:-0.48px;">大学院進学（博士後期課程）</div>
<div style="position:absolute;top:493.75px;line-height:12px;font-size:8.8px;color:#646464;white-space:nowrap;left:131.70px;width:80px;text-align:center;"><span style="display:inline-block;color:#6c6c6c;font-size:8.8px;letter-spacing:0.2px;transform:scaleX(1.22);transform-origin:100% 50%;margin-left:1.12px">3</span><span style="font-size:6.6px;margin-left:1.5px;letter-spacing:0.22px">(12.0%)</span></div>
<div style="position:absolute;top:493.75px;line-height:12px;font-size:8.8px;color:#646464;white-space:nowrap;left:190.40px;width:80px;text-align:center;"><span style="display:inline-block;color:#6c6c6c;font-size:8.8px;letter-spacing:0.2px;transform:scaleX(1.22);transform-origin:100% 50%;margin-left:1.12px">1</span><span style="font-size:6.6px;margin-left:1.5px;letter-spacing:0.22px">(3.4%)</span></div>
<div style="position:absolute;top:493.75px;line-height:12px;font-size:8.8px;color:#646464;white-space:nowrap;left:248.30px;width:80px;text-align:center;"><span style="display:inline-block;color:#6c6c6c;font-size:8.8px;letter-spacing:0.2px;transform:scaleX(1.22);transform-origin:100% 50%;margin-left:1.12px">4</span><span style="font-size:6.6px;margin-left:1.5px;letter-spacing:0.22px">(7.4%)</span></div>
<div style="position:absolute;left:145.40px;top:507.70px;width:172.00px;height:0.80px;background:#d3d5d6;"></div>
<div style="position:absolute;left:52.00px;top:509.00px;width:91.60px;height:16.00px;background:#d8dadb;"></div>
<div style="position:absolute;top:511.96px;line-height:11.48px;font-size:8.2px;color:#333;white-space:nowrap;font-weight:500;letter-spacing:-0.8px;font-feature-settings:'halt';left:47.50px;width:100px;text-align:center;text-indent:-0.8px;">合　計</div>
<div style="position:absolute;top:511.50px;line-height:12px;font-size:8.8px;color:#646464;white-space:nowrap;left:131.70px;width:80px;text-align:center;"><span style="display:inline-block;color:#6c6c6c;font-size:8.8px;letter-spacing:0.2px;transform:scaleX(1.22);transform-origin:100% 50%;margin-left:2.24px">25</span><span style="font-size:6.6px;margin-left:1.5px;letter-spacing:0.22px">(100.0%)</span></div>
<div style="position:absolute;top:511.50px;line-height:12px;font-size:8.8px;color:#646464;white-space:nowrap;left:190.40px;width:80px;text-align:center;"><span style="display:inline-block;color:#6c6c6c;font-size:8.8px;letter-spacing:0.2px;transform:scaleX(1.22);transform-origin:100% 50%;margin-left:2.24px">29</span><span style="font-size:6.6px;margin-left:1.5px;letter-spacing:0.22px">(100.0%)</span></div>
<div style="position:absolute;top:511.50px;line-height:12px;font-size:8.8px;color:#646464;white-space:nowrap;left:248.30px;width:80px;text-align:center;"><span style="display:inline-block;color:#6c6c6c;font-size:8.8px;letter-spacing:0.2px;transform:scaleX(1.22);transform-origin:100% 50%;margin-left:2.24px">54</span><span style="font-size:6.6px;margin-left:1.5px;letter-spacing:0.22px">(100.0%)</span></div>
<div style="position:absolute;left:145.40px;top:524.60px;width:172.00px;height:0.80px;background:#d3d5d6;"></div>
<div style="position:absolute;left:201.90px;top:408.70px;width:0.80px;height:116.70px;background:#d3d5d6;"></div>
<div style="position:absolute;left:259.40px;top:408.70px;width:0.80px;height:116.70px;background:#d3d5d6;"></div>
<div style="position:absolute;left:316.60px;top:409.70px;width:0.80px;height:115.70px;background:#d3d5d6;"></div>
<div style="position:absolute;top:527.34px;line-height:8.12px;font-size:5.8px;color:#444;white-space:nowrap;letter-spacing:-0.09px;left:52.30px;">※公務員には公立病院内定者も含む</div>
<div style="position:absolute;top:592.29px;line-height:14.42px;font-size:10.3px;color:#222;white-space:nowrap;letter-spacing:0.68px;left:52.30px;">平成<span style="font-size:110%">20</span>年度</div>
<div style="position:absolute;top:592.29px;line-height:14.42px;font-size:10.3px;color:#222;white-space:nowrap;letter-spacing:0.46px;font-feature-settings:'halt';left:114.60px;">学部卒業生（<span style="font-size:110%">56</span>期生）</div>
<div style="position:absolute;top:598.99px;line-height:7.42px;font-size:5.3px;color:#555;white-space:nowrap;letter-spacing:0.78px;font-feature-settings:'halt';left:250.80px;">（平成21年3月31日現在）</div>
<div style="position:absolute;left:52.00px;top:609.60px;width:91.60px;height:15.60px;background:#dcdedd;"></div>
<div style="position:absolute;top:612.36px;line-height:11.48px;font-size:8.2px;color:#333;white-space:nowrap;font-weight:500;letter-spacing:-0.8px;font-feature-settings:'halt';left:52.80px;width:90px;text-align:center;text-indent:-0.8px;">区　分</div>
<div style="position:absolute;left:145.40px;top:609.60px;width:56.00px;height:15.60px;background:#dcdedd;"></div>
<div style="position:absolute;top:612.10px;line-height:12px;font-size:7.9px;color:#555;white-space:nowrap;left:146.30px;width:56px;text-align:center;"><span style="font-size:7.9px;font-weight:500;color:#333">男</span><span style="font-size:6.4px;margin-left:0.8px;letter-spacing:0.2px">(%)</span></div>
<div style="position:absolute;left:203.40px;top:609.60px;width:56.00px;height:15.60px;background:#dcdedd;"></div>
<div style="position:absolute;top:612.10px;line-height:12px;font-size:7.9px;color:#555;white-space:nowrap;left:204.30px;width:56px;text-align:center;"><span style="font-size:7.9px;font-weight:500;color:#333">女</span><span style="font-size:6.4px;margin-left:0.8px;letter-spacing:0.2px">(%)</span></div>
<div style="position:absolute;left:261.40px;top:609.60px;width:55.80px;height:15.60px;background:#dcdedd;"></div>
<div style="position:absolute;top:612.10px;line-height:12px;font-size:7.9px;color:#555;white-space:nowrap;left:262.20px;width:56px;text-align:center;"><span style="font-size:7.9px;font-weight:500;color:#333">合計</span><span style="font-size:6.4px;margin-left:0.8px;letter-spacing:0.2px">(%)</span></div>
<div style="position:absolute;left:52.00px;top:627.00px;width:91.60px;height:15.80px;background:#b3a541;"></div>
<div style="position:absolute;top:630.88px;line-height:10.64px;font-size:7.6px;color:#fff;white-space:nowrap;letter-spacing:-0.22px;font-feature-settings:'halt';left:47.50px;width:100px;text-align:center;text-indent:-0.22px;">薬　局</div>
<div style="position:absolute;top:629.40px;line-height:12px;font-size:8.8px;color:#646464;white-space:nowrap;left:133.10px;width:80px;text-align:center;"><span style="display:inline-block;color:#6c6c6c;font-size:8.8px;letter-spacing:0.2px;transform:scaleX(1.22);transform-origin:100% 50%;margin-left:2.24px">17</span><span style="font-size:6.6px;margin-left:1.5px;letter-spacing:0.22px">(15.3%)</span></div>
<div style="position:absolute;top:629.40px;line-height:12px;font-size:8.8px;color:#646464;white-space:nowrap;left:191.80px;width:80px;text-align:center;"><span style="display:inline-block;color:#6c6c6c;font-size:8.8px;letter-spacing:0.2px;transform:scaleX(1.22);transform-origin:100% 50%;margin-left:2.24px">46</span><span style="font-size:6.6px;margin-left:1.5px;letter-spacing:0.22px">(25.7%)</span></div>
<div style="position:absolute;top:629.40px;line-height:12px;font-size:8.8px;color:#646464;white-space:nowrap;left:249.00px;width:80px;text-align:center;"><span style="display:inline-block;color:#6c6c6c;font-size:8.8px;letter-spacing:0.2px;transform:scaleX(1.22);transform-origin:100% 50%;margin-left:2.24px">63</span><span style="font-size:6.6px;margin-left:1.5px;letter-spacing:0.22px">(21.7%)</span></div>
<div style="position:absolute;left:145.40px;top:643.50px;width:172.00px;height:0.80px;background:#d3d5d6;"></div>
<div style="position:absolute;left:52.00px;top:644.80px;width:91.60px;height:15.60px;background:#c8a444;"></div>
<div style="position:absolute;top:648.65px;line-height:10.5px;font-size:7.5px;color:#fff;white-space:nowrap;letter-spacing:-0.15px;font-feature-settings:'halt';left:47.50px;width:100px;text-align:center;text-indent:-0.15px;">病院・診療所</div>
<div style="position:absolute;top:647.10px;line-height:12px;font-size:8.8px;color:#646464;white-space:nowrap;left:133.10px;width:80px;text-align:center;"><span style="display:inline-block;color:#6c6c6c;font-size:8.8px;letter-spacing:0.2px;transform:scaleX(1.22);transform-origin:100% 50%;margin-left:1.12px">3</span><span style="font-size:6.6px;margin-left:1.5px;letter-spacing:0.22px">(2.7%)</span></div>
<div style="position:absolute;top:647.10px;line-height:12px;font-size:8.8px;color:#646464;white-space:nowrap;left:191.80px;width:80px;text-align:center;"><span style="display:inline-block;color:#6c6c6c;font-size:8.8px;letter-spacing:0.2px;transform:scaleX(1.22);transform-origin:100% 50%;margin-left:2.24px">39</span><span style="font-size:6.6px;margin-left:1.5px;letter-spacing:0.22px">(21.8%)</span></div>
<div style="position:absolute;top:647.10px;line-height:12px;font-size:8.8px;color:#646464;white-space:nowrap;left:249.00px;width:80px;text-align:center;"><span style="display:inline-block;color:#6c6c6c;font-size:8.8px;letter-spacing:0.2px;transform:scaleX(1.22);transform-origin:100% 50%;margin-left:2.24px">42</span><span style="font-size:6.6px;margin-left:1.5px;letter-spacing:0.22px">(14.5%)</span></div>
<div style="position:absolute;left:145.40px;top:661.10px;width:172.00px;height:0.80px;background:#d3d5d6;"></div>
<div style="position:absolute;left:52.00px;top:662.60px;width:91.60px;height:15.40px;background:#62ab66;"></div>
<div style="position:absolute;top:666.35px;line-height:10.5px;font-size:7.5px;color:#fff;white-space:nowrap;letter-spacing:-0.24px;font-feature-settings:'halt';left:47.50px;width:100px;text-align:center;text-indent:-0.24px;">病院研修生</div>
<div style="position:absolute;top:664.80px;line-height:12px;font-size:8.8px;color:#646464;white-space:nowrap;left:133.10px;width:80px;text-align:center;"><span style="display:inline-block;color:#6c6c6c;font-size:8.8px;letter-spacing:0.2px;transform:scaleX(1.22);transform-origin:100% 50%;margin-left:1.12px">3</span><span style="font-size:6.6px;margin-left:1.5px;letter-spacing:0.22px">(2.7%)</span></div>
<div style="position:absolute;top:664.80px;line-height:12px;font-size:8.8px;color:#646464;white-space:nowrap;left:191.80px;width:80px;text-align:center;"><span style="display:inline-block;color:#6c6c6c;font-size:8.8px;letter-spacing:0.2px;transform:scaleX(1.22);transform-origin:100% 50%;margin-left:1.12px">9</span><span style="font-size:6.6px;margin-left:1.5px;letter-spacing:0.22px">(5.0%)</span></div>
<div style="position:absolute;top:664.80px;line-height:12px;font-size:8.8px;color:#646464;white-space:nowrap;left:249.00px;width:80px;text-align:center;"><span style="display:inline-block;color:#6c6c6c;font-size:8.8px;letter-spacing:0.2px;transform:scaleX(1.22);transform-origin:100% 50%;margin-left:2.24px">12</span><span style="font-size:6.6px;margin-left:1.5px;letter-spacing:0.22px">(4.1%)</span></div>
<div style="position:absolute;left:145.40px;top:678.70px;width:172.00px;height:0.80px;background:#d3d5d6;"></div>
<div style="position:absolute;left:52.00px;top:680.00px;width:57.60px;height:26.00px;background:#e9a557;"></div>
<div style="position:absolute;top:689.02px;line-height:10.36px;font-size:7.4px;color:#fff;white-space:nowrap;letter-spacing:-0.09px;font-feature-settings:'halt';left:50.80px;width:60px;text-align:center;text-indent:-0.09px;">薬業関連企業</div>
<div style="position:absolute;left:110.60px;top:680.00px;width:33.00px;height:12.20px;background:#e9a557;"></div>
<div style="position:absolute;left:110.60px;top:693.50px;width:33.00px;height:12.50px;background:#e9a557;"></div>
<div style="position:absolute;top:680.72px;line-height:11.76px;font-size:8.4px;color:#fff;white-space:nowrap;letter-spacing:0.76px;font-feature-settings:'halt';left:109.60px;width:34px;text-align:center;text-indent:0.76px;">MR</div>
<div style="position:absolute;top:695.20px;line-height:10.5px;font-size:7.5px;color:#fff;white-space:nowrap;letter-spacing:0.33px;font-feature-settings:'halt';left:109.60px;width:34px;text-align:center;text-indent:0.33px;">内勤</div>
<div style="position:absolute;top:680.60px;line-height:12px;font-size:8.8px;color:#646464;white-space:nowrap;left:133.10px;width:80px;text-align:center;"><span style="display:inline-block;color:#6c6c6c;font-size:8.8px;letter-spacing:0.2px;transform:scaleX(1.22);transform-origin:100% 50%;margin-left:2.24px">15</span><span style="font-size:6.6px;margin-left:1.5px;letter-spacing:0.22px">(13.5%)</span></div>
<div style="position:absolute;top:680.60px;line-height:12px;font-size:8.8px;color:#646464;white-space:nowrap;left:191.80px;width:80px;text-align:center;"><span style="display:inline-block;color:#6c6c6c;font-size:8.8px;letter-spacing:0.2px;transform:scaleX(1.22);transform-origin:100% 50%;margin-left:2.24px">17</span><span style="font-size:6.6px;margin-left:1.5px;letter-spacing:0.22px">(9.5%)</span></div>
<div style="position:absolute;top:680.60px;line-height:12px;font-size:8.8px;color:#646464;white-space:nowrap;left:249.00px;width:80px;text-align:center;"><span style="display:inline-block;color:#6c6c6c;font-size:8.8px;letter-spacing:0.2px;transform:scaleX(1.22);transform-origin:100% 50%;margin-left:2.24px">32</span><span style="font-size:6.6px;margin-left:1.5px;letter-spacing:0.22px">(11.0%)</span></div>
<div style="position:absolute;top:694.25px;line-height:12px;font-size:8.8px;color:#646464;white-space:nowrap;left:133.10px;width:80px;text-align:center;"><span style="display:inline-block;color:#6c6c6c;font-size:8.8px;letter-spacing:0.2px;transform:scaleX(1.22);transform-origin:100% 50%;margin-left:1.12px">2</span><span style="font-size:6.6px;margin-left:1.5px;letter-spacing:0.22px">(1.8%)</span></div>
<div style="position:absolute;top:694.25px;line-height:12px;font-size:8.8px;color:#646464;white-space:nowrap;left:191.80px;width:80px;text-align:center;"><span style="display:inline-block;color:#6c6c6c;font-size:8.8px;letter-spacing:0.2px;transform:scaleX(1.22);transform-origin:100% 50%;margin-left:1.12px">7</span><span style="font-size:6.6px;margin-left:1.5px;letter-spacing:0.22px">(3.9%)</span></div>
<div style="position:absolute;top:694.25px;line-height:12px;font-size:8.8px;color:#646464;white-space:nowrap;left:249.00px;width:80px;text-align:center;"><span style="display:inline-block;color:#6c6c6c;font-size:8.8px;letter-spacing:0.2px;transform:scaleX(1.22);transform-origin:100% 50%;margin-left:1.12px">9</span><span style="font-size:6.6px;margin-left:1.5px;letter-spacing:0.22px">(3.1%)</span></div>
<div style="position:absolute;left:145.40px;top:692.45px;width:172.00px;height:0.80px;background:#d3d5d6;"></div>
<div style="position:absolute;left:145.40px;top:706.70px;width:172.00px;height:0.80px;background:#d3d5d6;"></div>
<div style="position:absolute;left:52.00px;top:708.00px;width:91.60px;height:15.60px;background:#41a1cc;"></div>
<div style="position:absolute;top:711.85px;line-height:10.5px;font-size:7.5px;color:#fff;white-space:nowrap;letter-spacing:-0.2px;font-feature-settings:'halt';left:47.50px;width:100px;text-align:center;text-indent:-0.2px;">公務員・教職員</div>
<div style="position:absolute;top:710.30px;line-height:12px;font-size:8.8px;color:#646464;white-space:nowrap;left:133.10px;width:80px;text-align:center;"><span style="display:inline-block;color:#6c6c6c;font-size:8.8px;letter-spacing:0.2px;transform:scaleX(1.22);transform-origin:100% 50%;margin-left:2.24px">11</span><span style="font-size:6.6px;margin-left:1.5px;letter-spacing:0.22px">(9.9%)</span></div>
<div style="position:absolute;top:710.30px;line-height:12px;font-size:8.8px;color:#646464;white-space:nowrap;left:191.80px;width:80px;text-align:center;"><span style="display:inline-block;color:#6c6c6c;font-size:8.8px;letter-spacing:0.2px;transform:scaleX(1.22);transform-origin:100% 50%;margin-left:2.24px">21</span><span style="font-size:6.6px;margin-left:1.5px;letter-spacing:0.22px">(11.7%)</span></div>
<div style="position:absolute;top:710.30px;line-height:12px;font-size:8.8px;color:#646464;white-space:nowrap;left:249.00px;width:80px;text-align:center;"><span style="display:inline-block;color:#6c6c6c;font-size:8.8px;letter-spacing:0.2px;transform:scaleX(1.22);transform-origin:100% 50%;margin-left:2.24px">32</span><span style="font-size:6.6px;margin-left:1.5px;letter-spacing:0.22px">(11.0%)</span></div>
<div style="position:absolute;left:145.40px;top:724.30px;width:172.00px;height:0.80px;background:#d3d5d6;"></div>
<div style="position:absolute;left:52.00px;top:725.60px;width:91.60px;height:15.40px;background:#e98c64;"></div>
<div style="position:absolute;top:729.42px;line-height:10.36px;font-size:7.4px;color:#fff;white-space:nowrap;letter-spacing:-0.48px;font-feature-settings:'halt';left:47.50px;width:100px;text-align:center;text-indent:-0.48px;">大学院進学（博士前期課程）</div>
<div style="position:absolute;top:727.80px;line-height:12px;font-size:8.8px;color:#646464;white-space:nowrap;left:133.10px;width:80px;text-align:center;"><span style="display:inline-block;color:#6c6c6c;font-size:8.8px;letter-spacing:0.2px;transform:scaleX(1.22);transform-origin:100% 50%;margin-left:2.24px">57</span><span style="font-size:6.6px;margin-left:1.5px;letter-spacing:0.22px">(51.4%)</span></div>
<div style="position:absolute;top:727.80px;line-height:12px;font-size:8.8px;color:#646464;white-space:nowrap;left:191.80px;width:80px;text-align:center;"><span style="display:inline-block;color:#6c6c6c;font-size:8.8px;letter-spacing:0.2px;transform:scaleX(1.22);transform-origin:100% 50%;margin-left:2.24px">36</span><span style="font-size:6.6px;margin-left:1.5px;letter-spacing:0.22px">(20.1%)</span></div>
<div style="position:absolute;top:727.80px;line-height:12px;font-size:8.8px;color:#646464;white-space:nowrap;left:249.00px;width:80px;text-align:center;"><span style="display:inline-block;color:#6c6c6c;font-size:8.8px;letter-spacing:0.2px;transform:scaleX(1.22);transform-origin:100% 50%;margin-left:2.24px">93</span><span style="font-size:6.6px;margin-left:1.5px;letter-spacing:0.22px">(32.1%)</span></div>
<div style="position:absolute;left:145.40px;top:741.70px;width:172.00px;height:0.80px;background:#d3d5d6;"></div>
<div style="position:absolute;left:52.00px;top:743.00px;width:91.60px;height:15.40px;background:#4a8bd0;"></div>
<div style="position:absolute;top:746.75px;line-height:10.5px;font-size:7.5px;color:#fff;white-space:nowrap;letter-spacing:-0.5px;font-feature-settings:'halt';left:47.50px;width:100px;text-align:center;text-indent:-0.5px;">他大学等進学</div>
<div style="position:absolute;top:745.20px;line-height:12px;font-size:8.8px;color:#646464;white-space:nowrap;left:133.10px;width:80px;text-align:center;"><span style="display:inline-block;color:#6c6c6c;font-size:8.8px;letter-spacing:0.2px;transform:scaleX(1.22);transform-origin:100% 50%;margin-left:1.12px">3</span><span style="font-size:6.6px;margin-left:1.5px;letter-spacing:0.22px">(2.7%)</span></div>
<div style="position:absolute;top:745.20px;line-height:12px;font-size:8.8px;color:#646464;white-space:nowrap;left:191.80px;width:80px;text-align:center;"><span style="display:inline-block;color:#6c6c6c;font-size:8.8px;letter-spacing:0.2px;transform:scaleX(1.22);transform-origin:100% 50%;margin-left:1.12px">2</span><span style="font-size:6.6px;margin-left:1.5px;letter-spacing:0.22px">(1.1%)</span></div>
<div style="position:absolute;top:745.20px;line-height:12px;font-size:8.8px;color:#646464;white-space:nowrap;left:249.00px;width:80px;text-align:center;"><span style="display:inline-block;color:#6c6c6c;font-size:8.8px;letter-spacing:0.2px;transform:scaleX(1.22);transform-origin:100% 50%;margin-left:1.12px">5</span><span style="font-size:6.6px;margin-left:1.5px;letter-spacing:0.22px">(1.7%)</span></div>
<div style="position:absolute;left:145.40px;top:759.10px;width:172.00px;height:0.80px;background:#d3d5d6;"></div>
<div style="position:absolute;left:52.00px;top:760.30px;width:91.60px;height:15.30px;background:#c5aa7c;"></div>
<div style="position:absolute;top:764.00px;line-height:10.5px;font-size:7.5px;color:#fff;white-space:nowrap;letter-spacing:0.31px;font-feature-settings:'halt';left:47.50px;width:100px;text-align:center;text-indent:0.31px;">その他</div>
<div style="position:absolute;left:172.10px;top:768.35px;width:5.40px;height:0.70px;background:#8a8a8a;"></div>
<div style="position:absolute;top:762.45px;line-height:12px;font-size:8.8px;color:#646464;white-space:nowrap;left:191.80px;width:80px;text-align:center;"><span style="display:inline-block;color:#6c6c6c;font-size:8.8px;letter-spacing:0.2px;transform:scaleX(1.22);transform-origin:100% 50%;margin-left:1.12px">2</span><span style="font-size:6.6px;margin-left:1.5px;letter-spacing:0.22px">(1.1%)</span></div>
<div style="position:absolute;top:762.45px;line-height:12px;font-size:8.8px;color:#646464;white-space:nowrap;left:249.00px;width:80px;text-align:center;"><span style="display:inline-block;color:#6c6c6c;font-size:8.8px;letter-spacing:0.2px;transform:scaleX(1.22);transform-origin:100% 50%;margin-left:1.12px">2</span><span style="font-size:6.6px;margin-left:1.5px;letter-spacing:0.22px">(0.7%)</span></div>
<div style="position:absolute;left:145.40px;top:776.30px;width:172.00px;height:0.80px;background:#d3d5d6;"></div>
<div style="position:absolute;left:52.00px;top:777.60px;width:91.60px;height:15.40px;background:#d8dadb;"></div>
<div style="position:absolute;top:780.26px;line-height:11.48px;font-size:8.2px;color:#333;white-space:nowrap;font-weight:500;letter-spacing:-0.8px;font-feature-settings:'halt';left:47.50px;width:100px;text-align:center;text-indent:-0.8px;">合　計</div>
<div style="position:absolute;top:779.80px;line-height:12px;font-size:8.8px;color:#646464;white-space:nowrap;left:133.10px;width:80px;text-align:center;"><span style="display:inline-block;color:#6c6c6c;font-size:8.8px;letter-spacing:0.2px;transform:scaleX(1.22);transform-origin:100% 50%;margin-left:3.36px">111</span><span style="font-size:6.6px;margin-left:1.5px;letter-spacing:0.22px">(100.0%)</span></div>
<div style="position:absolute;top:779.80px;line-height:12px;font-size:8.8px;color:#646464;white-space:nowrap;left:191.80px;width:80px;text-align:center;"><span style="display:inline-block;color:#6c6c6c;font-size:8.8px;letter-spacing:0.2px;transform:scaleX(1.22);transform-origin:100% 50%;margin-left:3.36px">179</span><span style="font-size:6.6px;margin-left:1.5px;letter-spacing:0.22px">(100.0%)</span></div>
<div style="position:absolute;top:779.80px;line-height:12px;font-size:8.8px;color:#646464;white-space:nowrap;left:249.00px;width:80px;text-align:center;"><span style="display:inline-block;color:#6c6c6c;font-size:8.8px;letter-spacing:0.2px;transform:scaleX(1.22);transform-origin:100% 50%;margin-left:3.36px">290</span><span style="font-size:6.6px;margin-left:1.5px;letter-spacing:0.22px">(100.0%)</span></div>
<div style="position:absolute;left:145.40px;top:792.60px;width:172.00px;height:0.80px;background:#d3d5d6;"></div>
<div style="position:absolute;left:201.90px;top:625.70px;width:0.80px;height:167.70px;background:#d3d5d6;"></div>
<div style="position:absolute;left:259.40px;top:625.70px;width:0.80px;height:167.70px;background:#d3d5d6;"></div>
<div style="position:absolute;left:316.60px;top:626.70px;width:0.80px;height:166.70px;background:#d3d5d6;"></div>
<div style="position:absolute;top:795.34px;line-height:8.12px;font-size:5.8px;color:#444;white-space:nowrap;letter-spacing:-0.09px;left:52.30px;">※公務員には公立病院内定者も含む</div>
<div style="position:absolute;top:165.20px;line-height:9px;font-size:5.9px;color:#5a5a5a;white-space:nowrap;letter-spacing:-0.36px;font-feature-settings:'halt';left:411.85px;">研究生</div>
<div style="position:absolute;top:165.20px;line-height:9px;font-size:6.8px;color:#5a5a5a;white-space:nowrap;letter-spacing:0.03px;left:431.50px;">1.3%</div>
<div style="position:absolute;top:182.00px;line-height:9px;font-size:5.9px;color:#5a5a5a;white-space:nowrap;letter-spacing:-0.01px;font-feature-settings:'halt';left:340.25px;">大学院進学（博士後期課程）</div>
<div style="position:absolute;top:182.00px;line-height:9px;font-size:6.8px;color:#5a5a5a;white-space:nowrap;letter-spacing:0.03px;left:413.70px;">3.8%</div>
<div style="position:absolute;top:197.80px;line-height:9px;font-size:5.9px;color:#5a5a5a;white-space:nowrap;letter-spacing:0.28px;font-feature-settings:'halt';left:340.25px;">薬業関連企業（MR）</div>
<div style="position:absolute;top:197.80px;line-height:9px;font-size:6.8px;color:#5a5a5a;white-space:nowrap;letter-spacing:0.03px;left:394.70px;">5.1%</div>
<div style="position:absolute;top:220.20px;line-height:9px;font-size:5.9px;color:#5a5a5a;white-space:nowrap;letter-spacing:-0.93px;font-feature-settings:'halt';left:340.25px;">薬局</div>
<div style="position:absolute;top:220.20px;line-height:9px;font-size:6.8px;color:#5a5a5a;white-space:nowrap;letter-spacing:0.03px;left:354.20px;">6.4%</div>
<div style="position:absolute;top:237.00px;line-height:9px;font-size:5.9px;color:#5a5a5a;white-space:nowrap;letter-spacing:-0.16px;font-feature-settings:'halt';left:340.25px;">公務員・教職員</div>
<div style="position:absolute;top:246.10px;line-height:9px;font-size:6.8px;color:#5a5a5a;white-space:nowrap;letter-spacing:0.33px;left:357.70px;">14.1%</div>
<div style="position:absolute;top:328.30px;line-height:9px;font-size:5.9px;color:#5a5a5a;white-space:nowrap;letter-spacing:-0.21px;font-feature-settings:'halt';left:340.25px;">病院・診療所</div>
<div style="position:absolute;top:337.50px;line-height:9px;font-size:6.8px;color:#5a5a5a;white-space:nowrap;letter-spacing:0.33px;left:350.90px;">19.2%</div>
<div style="position:absolute;top:199.50px;line-height:9px;font-size:5.9px;color:#5a5a5a;white-space:nowrap;letter-spacing:0.15px;font-feature-settings:'halt';left:505.35px;">薬業関連企業（内勤）</div>
<div style="position:absolute;top:207.50px;line-height:9px;font-size:6.8px;color:#5a5a5a;white-space:nowrap;letter-spacing:0.58px;left:505.20px;">50.0%</div>
<div style="position:absolute;top:262.85px;line-height:13.3px;font-size:9.5px;color:#3a7cc9;white-space:nowrap;font-weight:500;letter-spacing:-0.22px;left:419.20px;width:60px;text-align:center;text-indent:-0.22px;">合計</div>
<div style="position:absolute;top:275.04px;line-height:13.72px;font-size:9.8px;color:#3a7cc9;white-space:nowrap;font-weight:500;letter-spacing:0.48px;left:419.60px;width:60px;text-align:center;text-indent:0.48px;"><span style="font-size:11px;font-weight:400;-webkit-text-stroke:0.25px currentColor">78</span>名</div>
<div style="position:absolute;top:370.30px;line-height:9px;font-size:5.9px;color:#5a5a5a;white-space:nowrap;letter-spacing:-0.93px;font-feature-settings:'halt';left:412.85px;">薬局</div>
<div style="position:absolute;top:370.30px;line-height:9px;font-size:6.8px;color:#5a5a5a;white-space:nowrap;letter-spacing:0.03px;left:425.60px;">3.7%</div>
<div style="position:absolute;top:381.80px;line-height:9px;font-size:5.9px;color:#5a5a5a;white-space:nowrap;letter-spacing:-0.01px;font-feature-settings:'halt';left:340.25px;">大学院進学（博士後期課程）</div>
<div style="position:absolute;top:389.80px;line-height:9px;font-size:6.8px;color:#5a5a5a;white-space:nowrap;letter-spacing:0.03px;left:395.40px;">7.4%</div>
<div style="position:absolute;top:409.50px;line-height:9px;font-size:5.9px;color:#5a5a5a;white-space:nowrap;letter-spacing:-0.14px;font-feature-settings:'halt';left:340.25px;">薬業関連企業</div>
<div style="position:absolute;top:418.30px;line-height:9px;font-size:5.9px;color:#5a5a5a;white-space:nowrap;letter-spacing:0.37px;font-feature-settings:'halt';left:358.75px;">（MR）</div>
<div style="position:absolute;top:428.30px;line-height:9px;font-size:6.8px;color:#5a5a5a;white-space:nowrap;letter-spacing:0.45px;left:354.40px;">11.1%</div>
<div style="position:absolute;top:460.80px;line-height:9px;font-size:5.9px;color:#5a5a5a;white-space:nowrap;letter-spacing:-0.21px;font-feature-settings:'halt';left:340.25px;">病院・診療所</div>
<div style="position:absolute;top:468.80px;line-height:9px;font-size:6.8px;color:#5a5a5a;white-space:nowrap;letter-spacing:0.45px;left:350.90px;">11.1%</div>
<div style="position:absolute;top:516.30px;line-height:9px;font-size:5.9px;color:#5a5a5a;white-space:nowrap;letter-spacing:-0.16px;font-feature-settings:'halt';left:340.25px;">公務員・教職員</div>
<div style="position:absolute;top:523.80px;line-height:9px;font-size:6.8px;color:#5a5a5a;white-space:nowrap;letter-spacing:0.33px;left:357.40px;">16.7%</div>
<div style="position:absolute;top:385.80px;line-height:9px;font-size:5.9px;color:#5a5a5a;white-space:nowrap;letter-spacing:0.09px;font-feature-settings:'halt';left:505.35px;">薬業関連企業（内勤）</div>
<div style="position:absolute;top:393.30px;line-height:9px;font-size:6.8px;color:#5a5a5a;white-space:nowrap;letter-spacing:0.45px;left:505.20px;">50.0%</div>
<div style="position:absolute;top:449.55px;line-height:13.3px;font-size:9.5px;color:#3a7cc9;white-space:nowrap;font-weight:500;letter-spacing:-1.02px;left:418.30px;width:60px;text-align:center;text-indent:-1.02px;">合計</div>
<div style="position:absolute;top:461.74px;line-height:13.72px;font-size:9.8px;color:#3a7cc9;white-space:nowrap;font-weight:500;letter-spacing:0.38px;left:419.00px;width:60px;text-align:center;text-indent:0.38px;"><span style="font-size:11px;font-weight:400;-webkit-text-stroke:0.25px currentColor">54</span>名</div>
<div style="position:absolute;top:592.80px;line-height:9px;font-size:5.9px;color:#5a5a5a;white-space:nowrap;letter-spacing:-0.01px;font-feature-settings:'halt';left:412.35px;">その他</div>
<div style="position:absolute;top:592.80px;line-height:9px;font-size:6.8px;color:#5a5a5a;white-space:nowrap;letter-spacing:0.03px;left:432.30px;">0.7%</div>
<div style="position:absolute;top:607.00px;line-height:9px;font-size:5.9px;color:#5a5a5a;white-space:nowrap;font-feature-settings:'halt';left:395.35px;">他大学進学</div>
<div style="position:absolute;top:607.00px;line-height:9px;font-size:6.8px;color:#5a5a5a;white-space:nowrap;letter-spacing:0.03px;left:426.90px;">1.7%</div>
<div style="position:absolute;top:621.30px;line-height:9px;font-size:5.9px;color:#5a5a5a;white-space:nowrap;letter-spacing:0.09px;font-feature-settings:'halt';left:361.05px;">薬業関連企業（内勤）</div>
<div style="position:absolute;top:621.30px;line-height:9px;font-size:6.8px;color:#5a5a5a;white-space:nowrap;letter-spacing:0.03px;left:417.90px;">3.1%</div>
<div style="position:absolute;top:635.30px;line-height:9px;font-size:5.9px;color:#5a5a5a;white-space:nowrap;font-feature-settings:'halt';left:361.05px;">病院研修生</div>
<div style="position:absolute;top:635.30px;line-height:9px;font-size:6.8px;color:#5a5a5a;white-space:nowrap;letter-spacing:0.03px;left:392.30px;">4.1%</div>
<div style="position:absolute;top:657.80px;line-height:9px;font-size:5.9px;color:#5a5a5a;white-space:nowrap;letter-spacing:-0.16px;font-feature-settings:'halt';left:340.25px;">公務員・教職員</div>
<div style="position:absolute;top:667.00px;line-height:9px;font-size:6.8px;color:#5a5a5a;white-space:nowrap;letter-spacing:0.45px;left:356.90px;">11.0%</div>
<div style="position:absolute;top:686.30px;line-height:9px;font-size:5.9px;color:#5a5a5a;white-space:nowrap;letter-spacing:-0.14px;font-feature-settings:'halt';left:340.25px;">薬業関連企業</div>
<div style="position:absolute;top:694.50px;line-height:9px;font-size:5.9px;color:#5a5a5a;white-space:nowrap;letter-spacing:0.37px;font-feature-settings:'halt';left:358.75px;">（MR）</div>
<div style="position:absolute;top:702.80px;line-height:9px;font-size:6.8px;color:#5a5a5a;white-space:nowrap;letter-spacing:0.45px;left:354.40px;">11.0%</div>
<div style="position:absolute;top:770.30px;line-height:9px;font-size:5.9px;color:#5a5a5a;white-space:nowrap;letter-spacing:-0.21px;font-feature-settings:'halt';left:340.25px;">病院・診療所</div>
<div style="position:absolute;top:770.30px;line-height:9px;font-size:6.8px;color:#5a5a5a;white-space:nowrap;letter-spacing:0.33px;left:373.60px;">14.5%</div>
<div style="position:absolute;top:641.30px;line-height:9px;font-size:5.9px;color:#5a5a5a;white-space:nowrap;letter-spacing:-0.2px;font-feature-settings:'halt';left:517.85px;">大学院進学</div>
<div style="position:absolute;top:649.50px;line-height:9px;font-size:5.9px;color:#5a5a5a;white-space:nowrap;letter-spacing:0.22px;font-feature-settings:'halt';left:516.15px;">（博士前期課程）</div>
<div style="position:absolute;top:658.80px;line-height:9px;font-size:6.8px;color:#5a5a5a;white-space:nowrap;letter-spacing:0.2px;left:517.70px;">32.1%</div>
<div style="position:absolute;top:782.00px;line-height:9px;font-size:5.9px;color:#5a5a5a;white-space:nowrap;letter-spacing:-0.93px;font-feature-settings:'halt';left:506.85px;">薬局</div>
<div style="position:absolute;top:782.00px;line-height:9px;font-size:6.8px;color:#5a5a5a;white-space:nowrap;letter-spacing:0.33px;left:518.60px;">21.7%</div>
<div style="position:absolute;top:708.80px;line-height:12.6px;font-size:9.0px;color:#3fa886;white-space:nowrap;font-weight:500;letter-spacing:-0.72px;left:418.00px;width:60px;text-align:center;text-indent:-0.72px;">合計</div>
<div style="position:absolute;top:721.50px;line-height:12.6px;font-size:9.0px;color:#3fa886;white-space:nowrap;font-weight:500;letter-spacing:0.88px;left:418.50px;width:60px;text-align:center;text-indent:0.88px;"><span style="font-size:11px;font-weight:400;-webkit-text-stroke:0.25px currentColor">290</span>名</div>
<div style="position:absolute;top:835.50px;line-height:12.6px;font-size:9px;color:#333;white-space:nowrap;letter-spacing:-0.2px;left:9.40px;">29</div>
<div style="position:absolute;left:23.20px;top:838.30px;width:0.60px;height:7.70px;background:#888;"></div>
<div style="position:absolute;top:837.45px;line-height:9.1px;font-size:6.5px;color:#444;white-space:nowrap;letter-spacing:0.15px;left:28.00px;">Osaka University of Pharmaceutical Sciences</div>
</div></body></html>
